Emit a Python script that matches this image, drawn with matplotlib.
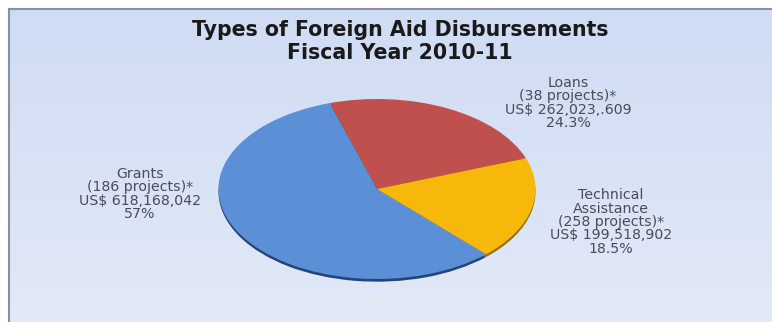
import numpy as np
import matplotlib.pyplot as plt

# disbursements by type, FY 2010-11
tipos = ['Loans', 'Grants', 'Technical Assistance']
montos = [262023609, 618168042, 199518902]
colores = ['#c0504d', '#5b8fd6', '#f6b80a']
colores_sombra = ['#7a2e2c', '#23457a', '#9a6e05']

etiquetas = [
    'Loans\n(38 projects)*\nUS$ 262,023,.609\n24.3%',
    'Grants\n(186 projects)*\nUS$ 618,168,042\n57%',
    'Technical\nAssistance\n(258 projects)*\nUS$ 199,518,902\n18.5%',
]
pos_etiquetas = [(568, 103), (140, 194), (611, 222)]  # px from top-left

W, H = 772, 322
fig = plt.figure(figsize=(W / 100, H / 100), dpi=100)
fig.patch.set_facecolor('white')

# fondo con degradado
fondo = fig.add_axes([0, 0, 1, 1])
fondo.set_xlim(0, W)
fondo.set_ylim(H, 0)
fondo.axis('off')
grad = np.linspace(0, 1, 256).reshape(-1, 1)
c_arriba = np.array([207, 220, 244]) / 255
c_abajo = np.array([226, 233, 247]) / 255
img = c_arriba + (c_abajo - c_arriba) * grad[..., None]
fondo.imshow(img, extent=[9, W, H, 9], aspect='auto', zorder=0)
fondo.plot([9, W], [9, 9], color='#8a909a', lw=1.5, zorder=1)
fondo.plot([9, 9], [9, H], color='#8a909a', lw=1.5, zorder=1)

fondo.text(400, 30, 'Types of Foreign Aid Disbursements', ha='center', va='center',
           fontsize=14.8, fontweight='bold', family='DejaVu Sans', color='#1a1a1a')
fondo.text(400, 53, 'Fiscal Year 2010-11', ha='center', va='center',
           fontsize=14.8, fontweight='bold', family='DejaVu Sans', color='#1a1a1a')

for txt, (x, y) in zip(etiquetas, pos_etiquetas):
    fondo.text(x, y, txt, ha='center', va='center', fontsize=10.2, family='DejaVu Sans',
               color='#484d58', linespacing=0.95)

# pastel elíptico: ejes más anchos que altos
cx, cy = 377, 189
ancho, alto = 317 * 1.25, 180 * 1.25
ax = fig.add_axes([(cx - ancho / 2) / W, (H - cy - alto / 2) / H, ancho / W, alto / H])
ax.pie(montos, colors=colores_sombra, startangle=20, counterclock=True,
       center=(0, -0.03), wedgeprops=dict(linewidth=0))
ax.pie(montos, colors=colores, startangle=20, counterclock=True,
       wedgeprops=dict(linewidth=0))
ax.set_aspect('auto')
ax.set_xlim(-1.25, 1.25)
ax.set_ylim(-1.25, 1.25)
ax.axis('off')

fig.savefig('out.png', dpi=100)
